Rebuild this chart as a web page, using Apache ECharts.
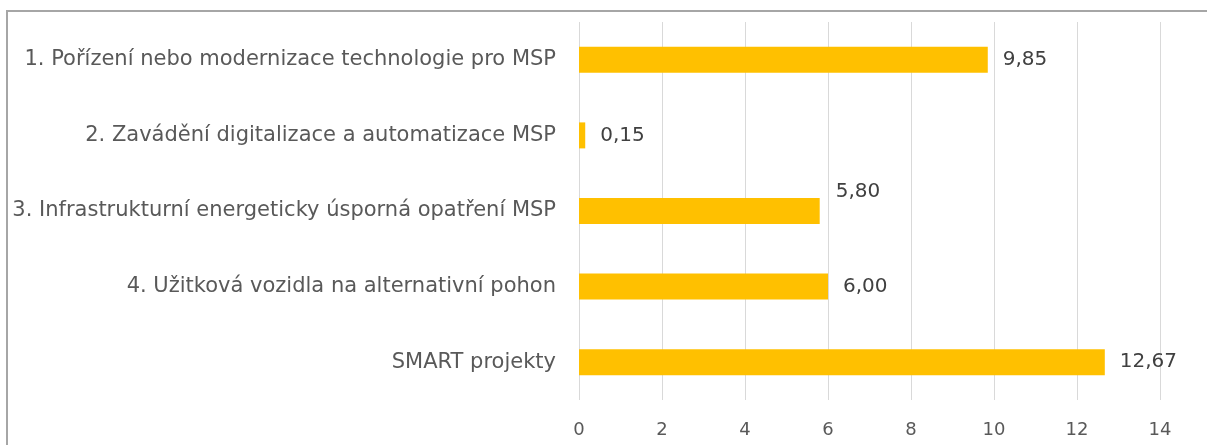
<!DOCTYPE html>
<html>
<head>
<meta charset="utf-8">
<script src="https://cdn.jsdelivr.net/npm/echarts@6/dist/echarts.min.js"></script>
<style>
  html, body { margin: 0; padding: 0; background: #fff; }
  #chart { width: 1207px; height: 445px; }
</style>
</head>
<body>
<div id="chart"></div>
<script>
var categories = [
  '1. Pořízení nebo modernizace technologie pro MSP',
  '2. Zavádění digitalizace a automatizace MSP',
  '3. Infrastrukturní energeticky úsporná opatření MSP',
  '4. Užitková vozidla na alternativní pohon',
  'SMART projekty'
];
var values = [9.85, 0.15, 5.80, 6.00, 12.67];
var xTicks = [0, 2, 4, 6, 8, 10, 12, 14];

var chart = echarts.init(document.getElementById('chart'));

// label of item 3 sits above the bar end, as in the original
var seriesData = values.map(function (v, i) {
  var item = { value: v };
  if (i == 2) {
    item.label = { offset: [1, -19] };
  }
  return item;
});

chart.setOption({
  animation: false,
  textStyle: { fontFamily: 'DejaVu Sans' },
  graphic: [{
    type: 'rect',
    shape: { x: 7, y: 11, width: 1300, height: 600 },
    style: { fill: 'none', stroke: '#a6a6a6', lineWidth: 2 },
    silent: true
  }],
  grid: {
    left: 579,
    right: 47,
    top: 22,
    bottom: 45
  },
  xAxis: {
    type: 'value',
    min: xTicks[0],
    max: xTicks[xTicks.length - 1],
    interval: 2,
    axisLine: { show: false },
    axisTick: { show: false },
    axisLabel: {
      color: '#595959',
      fontSize: 18,
      margin: 21
    },
    splitLine: { lineStyle: { color: '#d9d9d9', width: 1 } }
  },
  yAxis: {
    type: 'category',
    inverse: true,
    data: categories,
    axisLine: { show: false },
    axisTick: { show: false },
    axisLabel: {
      color: '#595959',
      fontSize: 21,
      margin: 23
    }
  },
  series: [{
    type: 'bar',
    data: seriesData,
    barWidth: 26,
    itemStyle: { color: '#ffc000' },
    label: {
      show: true,
      position: 'right',
      distance: 15,
      color: '#404040',
      fontSize: 20,
      formatter: function (p) {
        return p.value.toFixed(2).replace('.', ',');
      }
    }
  }]
});
</script>
</body>
</html>
